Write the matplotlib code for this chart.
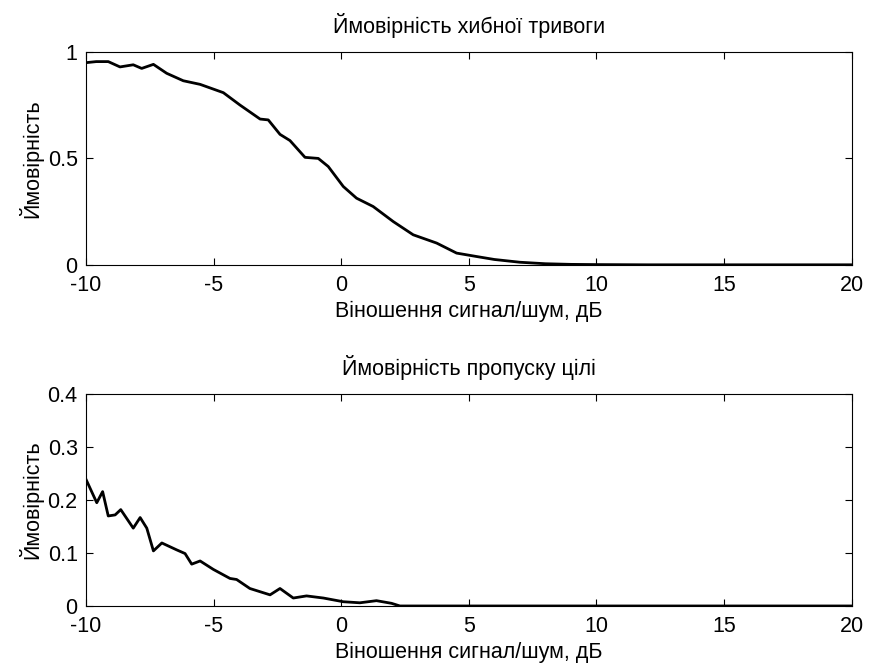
import matplotlib
matplotlib.use("Agg")
import matplotlib.pyplot as plt

plt.rcParams['font.family'] = ['Liberation Sans', 'DejaVu Sans']
plt.rcParams['axes.unicode_minus'] = False

# Probability of false alarm
snr_fa = [-10, -9.6, -9.13, -8.67, -8.15, -7.82, -7.36, -6.84, -6.19, -5.53, -4.62,
          -3.97, -3.18, -2.86, -2.40, -2.01, -1.42, -0.90, -0.51, 0.08, 0.60, 1.25,
          2.04, 2.82, 3.74, 4.52, 5.30, 6.0, 7.0, 8.0, 9.0, 10.0, 12.0, 15.0, 20.0]
p_fa = [0.95, 0.955, 0.955, 0.93, 0.94, 0.923, 0.942, 0.90, 0.865, 0.848, 0.809,
        0.751, 0.685, 0.681, 0.613, 0.584, 0.505, 0.50, 0.462, 0.368, 0.313, 0.274,
        0.203, 0.141, 0.102, 0.055, 0.039, 0.025, 0.012, 0.005, 0.002, 0.001, 0.0, 0.0, 0.0]

# Probability of miss
snr_miss = [-10, -9.58, -9.35, -9.13, -8.86, -8.64, -8.15, -7.88, -7.62, -7.36, -7.03,
            -6.45, -6.12, -5.86, -5.53, -5.01, -4.36, -4.10, -3.58, -2.79, -2.40, -1.88,
            -1.36, -0.70, 0.08, 0.73, 1.38, 1.97, 2.3, 5.0, 10.0, 15.0, 20.0]
p_miss = [0.239, 0.195, 0.216, 0.170, 0.172, 0.182, 0.147, 0.167, 0.147, 0.104, 0.119,
          0.106, 0.099, 0.079, 0.085, 0.069, 0.052, 0.050, 0.033, 0.021, 0.033, 0.015,
          0.019, 0.015, 0.008, 0.006, 0.010, 0.005, 0.0, 0.0, 0.0, 0.0, 0.0]

xticks = [-10, -5, 0, 5, 10, 15, 20]
yticks_fa = [0, 0.5, 1]
yticks_miss = [0, 0.1, 0.2, 0.3, 0.4]

xlabel = 'Віношення сигнал/шум, дБ'
ylabel = 'Ймовірність'
title1 = 'Ймовірність хибної тривоги'
title2 = 'Ймовірність пропуску цілі'

fig = plt.figure(figsize=(8.7, 6.67), dpi=100)
ax1 = fig.add_axes([0.0989, 0.603, 0.880, 0.319])
ax2 = fig.add_axes([0.0989, 0.0915, 0.880, 0.3175])

fs = 15.5
for ax, x, y, t, yl, yt in [(ax1, snr_fa, p_fa, title1, (0, 1), yticks_fa),
                            (ax2, snr_miss, p_miss, title2, (0, 0.4), yticks_miss)]:
    ax.plot(x, y, color='black', linewidth=2.0)
    ax.set_xlim(-10, 20)
    ax.set_ylim(*yl)
    ax.set_xticks(xticks)
    ax.set_xticklabels([str(v) for v in xticks])
    ax.set_yticks(yt)
    ax.set_yticklabels([('%g' % v) for v in yt])
    ax.tick_params(direction='in', length=5, width=0.8, top=True, right=True,
                   labelsize=fs)
    ax.tick_params(axis='x', pad=7)
    ax.tick_params(axis='y', pad=6)
    ax.set_title(t, fontsize=fs, pad=14)
    ax.set_xlabel(xlabel, fontsize=fs, labelpad=4)
    ax.set_ylabel(ylabel, fontsize=fs, labelpad=3)
    for s in ax.spines.values():
        s.set_linewidth(0.8)

fig.savefig('out.png', dpi=100)
